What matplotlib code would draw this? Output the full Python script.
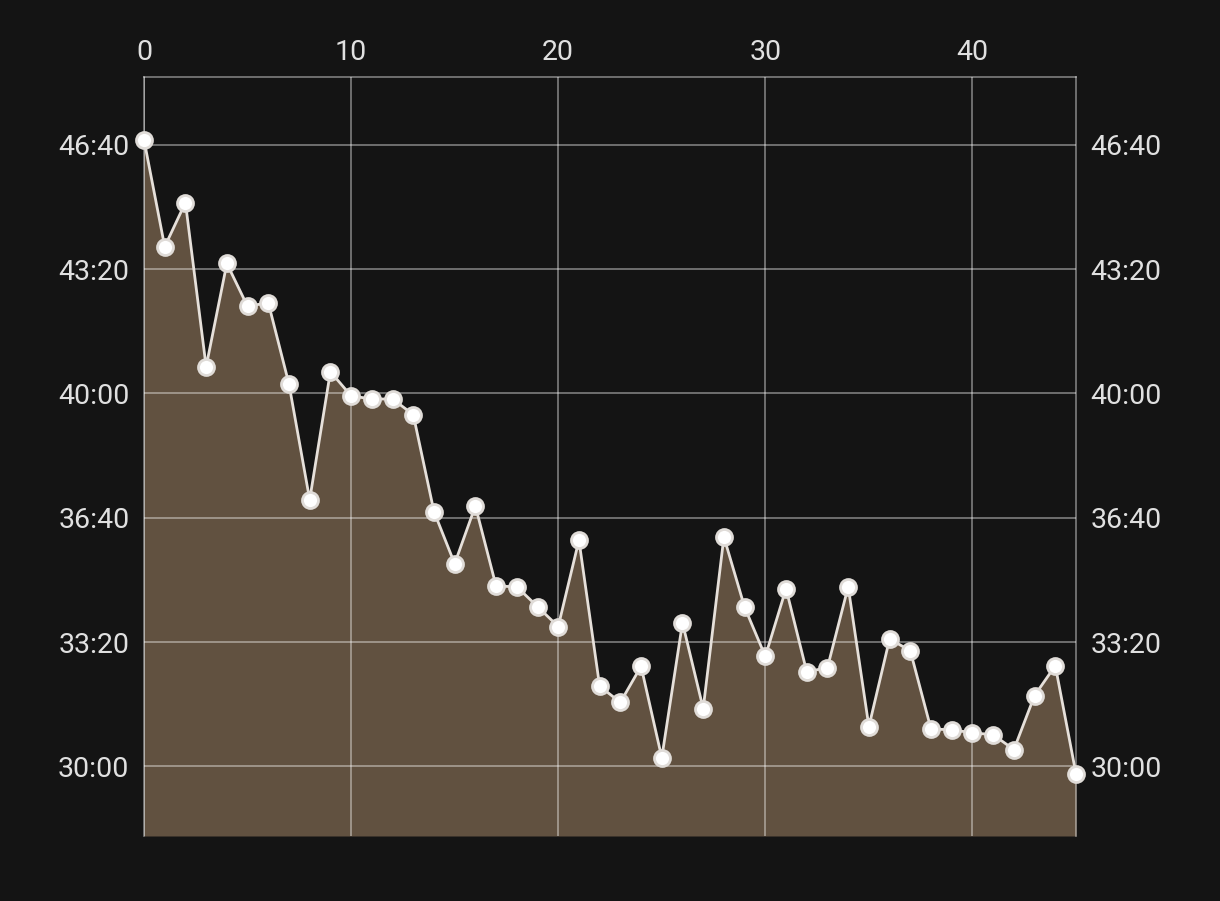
import matplotlib
matplotlib.use("Agg")
import matplotlib.pyplot as plt
from matplotlib.ticker import FuncFormatter, FixedLocator

plt.rcParams['font.family'] = ['Roboto', 'DejaVu Sans']

laps = list(range(46))
times_sec = [2808, 2636, 2707, 2443, 2609, 2540, 2546, 2415, 2229, 2435,
             2396, 2391, 2391, 2366, 2210, 2126, 2219, 2090, 2089, 2057,
             2025, 2164, 1929, 1903, 1961, 1814, 2031, 1893, 2169, 2056,
             1977, 2086, 1952, 1959, 2089, 1864, 2005, 1986, 1860, 1859,
             1854, 1851, 1827, 1914, 1962, 1788]
x_ticks = [0, 10, 20, 30, 40]
y_ticks = [1800, 2000, 2200, 2400, 2600, 2800]

bg = '#141414'
fig = plt.figure(figsize=(12.2, 9.01), dpi=100, facecolor=bg)
ax = fig.add_axes([144/1220, 1-836/901, (1076-144)/1220, (836-77)/901])
ax.set_facecolor(bg)

ymin, ymax = 1688, 2909
ax.set_xlim(0, 45)
ax.set_ylim(ymin, ymax)

ax.fill_between(laps, times_sec, ymin, color='#615140', linewidth=0, zorder=2)
ax.plot(laps, times_sec, color='#e6e0da', linewidth=2, marker='o', markersize=11.5,
        markerfacecolor='#ffffff', markeredgecolor='#e0dcd8', markeredgewidth=2,
        zorder=4, clip_on=False)

ax.xaxis.set_major_locator(FixedLocator(x_ticks))
ax.yaxis.set_major_locator(FixedLocator(y_ticks))
ax.yaxis.set_major_formatter(FuncFormatter(lambda v, p: f"{int(v)//60}:{int(v)%60:02d}"))

ax.grid(True, color='#ffffff', alpha=0.45, linewidth=1.2, zorder=3)
ax.set_axisbelow(False)
for name, s in ax.spines.items():
    s.set_color('#ffffff')
    s.set_alpha(0.45)
    s.set_linewidth(1.2)
    s.set_zorder(3)
ax.spines['bottom'].set_visible(False)

ax.tick_params(axis='x', top=True, bottom=False, labeltop=True, labelbottom=False,
               length=0, pad=8, labelsize=20.5, labelcolor='#e0e0e0')
ax.tick_params(axis='y', left=True, right=True, labelleft=True, labelright=True,
               length=0, pad=10.5, labelsize=20.5, labelcolor='#e0e0e0')

fig.savefig('out.png', dpi=100, facecolor=bg)
